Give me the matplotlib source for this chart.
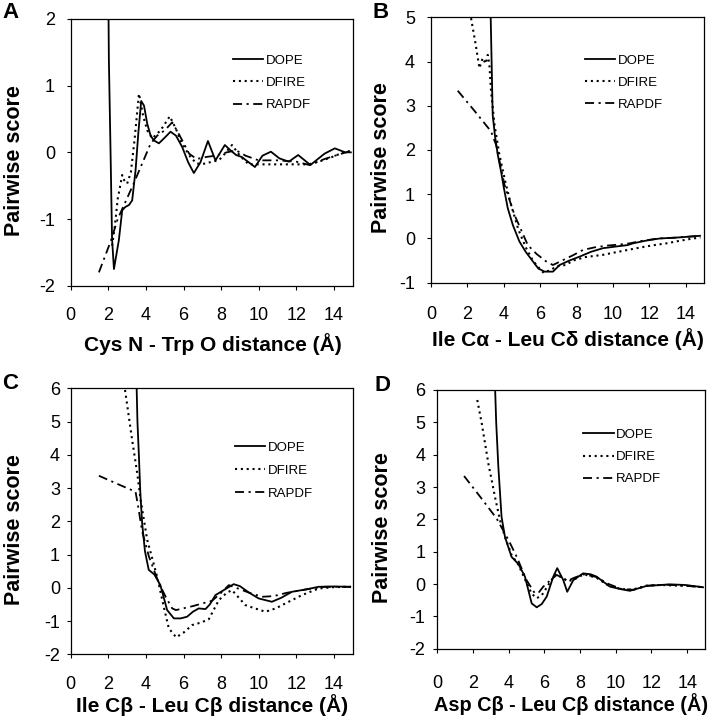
import matplotlib
matplotlib.use("Agg")
import matplotlib.pyplot as plt

plt.rcParams['font.family'] = ['Liberation Sans', 'DejaVu Sans']
plt.rcParams['axes.unicode_minus'] = False

# ---- panel A: Cys N - Trp O
a_dope_x = [2.0, 2.03, 2.12, 2.2, 2.3, 2.45, 2.56, 2.74, 2.9, 3.1, 3.27, 3.45, 3.6, 3.75, 3.9, 4.07, 4.25,
            4.42, 4.69, 5.0, 5.31, 5.6, 5.93, 6.25, 6.55, 6.9, 7.3, 7.7, 8.2, 8.5, 8.8, 9.1, 9.8, 10.2,
            10.65, 11.1, 11.6, 12.1, 12.75, 13.5, 14.05, 14.6, 14.9]
a_dope_y = [2.5, 1.4, 0.0, -1.3, -1.75, -1.5, -1.32, -0.87, -0.82, -0.79, -0.72, -0.27, 0.3, 0.77, 0.7,
            0.43, 0.25, 0.18, 0.135, 0.22, 0.31, 0.25, 0.08, -0.15, -0.31, -0.15, 0.17, -0.12, 0.11,
            0.03, -0.04, -0.07, -0.22, -0.05, 0.01, -0.09, -0.14, -0.04, -0.19, -0.02, 0.06, 0.0, 0.0]
a_dfire_x = [2.2, 2.35, 2.5, 2.74, 2.85, 3.0, 3.2, 3.4, 3.63, 3.85, 4.07, 4.34, 4.78, 5.27, 5.6, 5.84,
             6.1, 6.37, 6.7, 7.17, 7.5, 7.88, 8.2, 8.58, 9.0, 9.47, 10.0, 11.0, 12.0, 12.66, 13.3, 13.9,
             14.6, 14.9]
a_dfire_y = [-1.4, -1.1, -0.7, -0.34, -0.42, -0.47, -0.3, 0.2, 0.88, 0.55, 0.33, 0.21, 0.33, 0.54, 0.35,
             0.18, 0.05, -0.07, -0.17, -0.17, -0.14, -0.12, -0.02, 0.11, -0.05, -0.18, -0.18, -0.18,
             -0.18, -0.18, -0.13, -0.07, 0.01, 0.02]
a_rapdf_x = [1.5, 2.12, 2.5, 3.3, 4.25, 4.6, 5.0, 5.4, 5.8, 6.3, 6.7, 7.2, 7.7, 8.3, 8.8, 9.3, 10.0,
             11.0, 12.0, 12.7, 13.5, 14.4, 14.9]
a_rapdf_y = [-1.8, -1.34, -1.0, -0.5, 0.13, 0.25, 0.33, 0.45, 0.25, -0.02, -0.1, -0.07, -0.05, 0.0,
             0.03, -0.05, -0.12, -0.12, -0.14, -0.19, -0.1, -0.02, 0.02]

# ---- panel B: Ile CA - Leu CD
b_dope_x = [3.27, 3.33, 3.39, 3.52, 3.67, 3.85, 4.0, 4.22, 4.5, 4.86, 5.2, 5.6, 5.9, 6.24, 6.7, 7.07,
            7.6, 8.17, 8.8, 9.45, 10.2, 10.8, 11.1, 11.8, 12.57, 13.5, 14.78]
b_dope_y = [5.2, 4.0, 2.79, 2.3, 1.89, 1.51, 1.15, 0.68, 0.3, -0.07, -0.3, -0.52, -0.68, -0.75, -0.75,
            -0.6, -0.5, -0.41, -0.3, -0.22, -0.18, -0.15, -0.11, -0.05, 0.0, 0.02, 0.06]
b_dfire_x = [2.2, 2.45, 2.66, 2.84, 3.0, 3.12, 3.21, 3.3, 3.49, 3.76, 4.1, 4.4, 4.8, 5.23, 5.6, 5.96,
             6.2, 6.6, 7.0, 7.4, 7.8, 8.5, 9.45, 10.3, 11.3, 12.1, 12.94, 13.7, 14.4, 14.8]
b_dfire_y = [4.98, 4.4, 3.85, 4.08, 3.95, 4.15, 3.92, 3.32, 2.57, 1.89, 1.25, 0.76, 0.2, -0.22, -0.5,
             -0.68, -0.78, -0.7, -0.62, -0.6, -0.5, -0.42, -0.37, -0.3, -0.22, -0.16, -0.11, -0.05,
             0.0, 0.02]
b_rapdf_x = [1.47, 2.4, 3.3, 3.58, 4.04, 4.59, 5.32, 5.8, 6.33, 6.7, 7.2, 7.8, 8.35, 9.0, 9.7, 10.3,
             10.92, 11.5, 12.5, 13.5, 14.8]
b_rapdf_y = [3.34, 2.88, 2.42, 2.11, 1.21, 0.53, -0.15, -0.35, -0.52, -0.6, -0.5, -0.38, -0.26, -0.2,
             -0.16, -0.14, -0.11, -0.06, 0.0, 0.02, 0.06]

# ---- panel C: Ile CB - Leu CB
c_dope_x = [3.5, 3.55, 3.63, 3.7, 3.8, 3.95, 4.15, 4.45, 4.77, 5.13, 5.49, 5.85, 6.19, 6.5, 6.81, 7.17,
            7.4, 7.7, 8.2, 8.67, 9.0, 9.5, 10.0, 10.7, 11.2, 11.77, 12.5, 13.19, 14.0, 14.87]
c_dope_y = [6.2, 5.0, 3.94, 2.9, 1.94, 1.1, 0.54, 0.4, 0.08, -0.67, -0.92, -0.92, -0.87, -0.72, -0.62,
            -0.64, -0.5, -0.22, -0.05, 0.11, 0.05, -0.15, -0.32, -0.42, -0.3, -0.12, -0.05, 0.03,
            0.04, 0.03]
c_dfire_x = [2.89, 3.27, 3.54, 3.72, 4.07, 4.6, 4.95, 5.22, 5.61, 6.0, 6.46, 6.9, 7.34, 7.88, 8.3,
             8.58, 9.29, 9.8, 10.36, 10.9, 11.42, 12.3, 13.19, 14.0, 14.9]
c_dfire_y = [5.95, 4.44, 3.44, 2.64, 1.44, 0.33, -0.57, -1.22, -1.49, -1.35, -1.12, -1.05, -0.95,
             -0.37, -0.15, -0.07, -0.52, -0.62, -0.72, -0.62, -0.47, -0.22, -0.02, 0.02, 0.03]
c_rapdf_x = [1.5, 2.5, 3.45, 3.6, 3.8, 4.16, 4.69, 5.05, 5.4, 5.6, 6.5, 7.52, 8.0, 8.41, 8.8, 9.5,
             10.18, 10.8, 11.5, 12.5, 13.5, 14.9]
c_rapdf_y = [3.37, 3.12, 2.89, 2.4, 1.7, 0.94, 0.14, -0.27, -0.62, -0.67, -0.55, -0.39, -0.15, 0.08,
             0.0, -0.15, -0.27, -0.25, -0.15, -0.05, 0.03, 0.03]

# ---- panel D: Asp CB - Leu CB
d_dope_x = [3.23, 3.3, 3.42, 3.6, 3.79, 4.16, 4.54, 4.91, 5.29, 5.57, 5.85, 6.13, 6.5, 6.72, 7.06,
            7.28, 7.62, 8.17, 8.6, 8.92, 9.67, 10.2, 10.79, 11.72, 13.03, 13.9, 14.89]
d_dope_y = [6.2, 5.0, 3.63, 2.08, 1.46, 0.84, 0.62, 0.23, -0.6, -0.72, -0.62, -0.39, 0.23, 0.49, 0.12,
            -0.24, 0.12, 0.33, 0.3, 0.23, -0.08, -0.15, -0.21, -0.06, -0.01, -0.03, -0.1]
d_dfire_x = [2.24, 2.49, 2.86, 3.23, 3.51, 3.79, 4.16, 4.54, 4.91, 5.29, 5.57, 5.85, 6.2, 6.6, 7.0,
             7.3, 7.7, 8.2, 8.9, 9.6, 10.3, 10.9, 11.7, 12.5, 13.5, 14.2, 14.9]
d_dfire_y = [5.69, 4.97, 3.73, 2.7, 1.98, 1.46, 0.9, 0.6, 0.15, -0.3, -0.44, -0.35, -0.05, 0.3, 0.2,
             0.08, 0.15, 0.3, 0.2, -0.05, -0.15, -0.18, -0.05, -0.03, -0.05, -0.06, -0.1]
d_rapdf_x = [1.5, 2.4, 3.32, 3.6, 4.0, 4.45, 5.0, 5.47, 5.7, 5.94, 6.3, 6.69, 7.0, 7.3, 7.7, 8.2, 8.9,
             9.6, 10.3, 11.0, 11.8, 12.8, 13.8, 14.9]
d_rapdf_y = [3.34, 2.7, 2.03, 1.75, 1.35, 0.84, 0.12, -0.29, -0.25, -0.08, 0.1, 0.28, 0.2, 0.1, 0.2,
             0.3, 0.22, 0.0, -0.15, -0.18, -0.05, -0.02, -0.05, -0.1]

letters = ["A", "B", "C", "D"]
xlabels = ["Cys N - Trp O distance (Å)", "Ile Cα - Leu Cδ distance (Å)",
           "Ile Cβ - Leu Cβ distance (Å)", "Asp Cβ - Leu Cβ distance (Å)"]
ylims = [(-2, 2), (-1, 5), (-2, 6), (-2, 6)]
series = [
    (a_dope_x, a_dope_y, a_dfire_x, a_dfire_y, a_rapdf_x, a_rapdf_y),
    (b_dope_x, b_dope_y, b_dfire_x, b_dfire_y, b_rapdf_x, b_rapdf_y),
    (c_dope_x, c_dope_y, c_dfire_x, c_dfire_y, c_rapdf_x, c_rapdf_y),
    (d_dope_x, d_dope_y, d_dfire_x, d_dfire_y, d_rapdf_x, d_rapdf_y),
]

W, H = 713, 720
# axes boxes in pixels: left, right, top, bottom
boxes = [(70.7, 352.7, 19.0, 285.7), (431.0, 704.0, 17.3, 282.7),
         (70.7, 352.7, 388.3, 654.3), (437.3, 705.0, 390.0, 648.7)]
xpads = [12, 13.5, 12.5, 16]
ypads = [8.3, 8.5, 4.7, 5.6]
ylab_x = [-0.162, -0.143, -0.162, -0.165]
xlab_pos = [(0.505, -0.177), (0.502, -0.171), (0.5, -0.15), (0.5, -0.17)]
xlab_size = [15, 15, 15, 14.3]
leg_pos = [(0.575, 0.866), (0.564, 0.860), (0.583, 0.800), (0.545, 0.850)]
leg_space = [0.75, 0.75, 0.82, 0.75]
letter_pos = [(2, 2), (373, 2), (2, 373), (375, 375)]

fig = plt.figure(figsize=(W / 100, H / 100), dpi=100)

for i in range(4):
    l, r, t, b = boxes[i]
    ax = fig.add_axes([l / W, 1 - b / H, (r - l) / W, (b - t) / H])
    dx, dy, fx, fy, rx, ry = series[i]
    ax.plot(dx, dy, color='black', lw=1.3, label='DOPE')
    ax.plot(fx, fy, color='black', lw=1.5, linestyle=(0, (1.0, 1.8)), label='DFIRE')
    ax.plot(rx, ry, color='black', lw=1.3, linestyle=(0, (5, 2.5, 1.2, 2.5)), label='RAPDF')

    ax.set_xlim(0, 15)
    ax.set_ylim(*ylims[i])
    ax.set_xticks(range(0, 15, 2))
    ax.set_yticks(range(ylims[i][0], ylims[i][1] + 1))
    ax.tick_params(axis='x', direction='out', length=3, width=0.8, labelsize=13, pad=xpads[i])
    ax.tick_params(axis='y', direction='out', length=3, width=0.8, labelsize=13, pad=ypads[i])
    for sp in ax.spines.values():
        sp.set_linewidth(0.9)

    ax.set_xlabel(xlabels[i], fontsize=xlab_size[i], fontweight='bold')
    ax.xaxis.set_label_coords(*xlab_pos[i])
    ax.set_ylabel("Pairwise score", fontsize=15.5, fontweight='bold')
    ax.yaxis.set_label_coords(ylab_x[i], 0.47)

    ax.legend(loc='upper left', bbox_to_anchor=leg_pos[i], frameon=False, fontsize=9.5,
              handlelength=2.3, handletextpad=0.2, labelspacing=leg_space[i],
              borderpad=0, borderaxespad=0)

    px, py = letter_pos[i]
    fig.text(px / W, 1 - py / H, letters[i], fontsize=16, fontweight='bold', ha='left', va='top')

fig.savefig("out.png", dpi=100)
